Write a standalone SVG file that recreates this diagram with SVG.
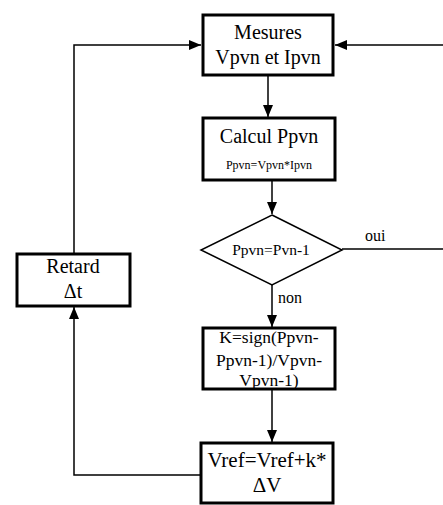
<svg xmlns="http://www.w3.org/2000/svg" width="443" height="505" viewBox="0 0 443 505">
<style>
.box{fill:#fff;stroke:#000;stroke-width:3}
.dia{fill:#fff;stroke:#000;stroke-width:1.5}
.ln{fill:none;stroke:#000;stroke-width:1.5}
text{font-family:'Liberation Serif','DejaVu Serif',serif;fill:#000;text-anchor:middle}
.lbl{text-anchor:start}
</style>
<defs>
<marker id="ah" viewBox="0 0 12 10" refX="12" refY="5" markerWidth="12" markerHeight="10" markerUnits="userSpaceOnUse" orient="auto">
<path d="M0,0 L12,5 L0,10 Z" fill="#000"/>
</marker>
</defs>
<rect width="443" height="505" fill="#fff"/>
<g id="connectors">
<path class="ln" d="M268,75 V117" marker-end="url(#ah)"/>
<path class="ln" d="M272,180 V214" marker-end="url(#ah)"/>
<path class="ln" d="M272,285 V327" marker-end="url(#ah)"/>
<path class="ln" d="M272,389 V442" marker-end="url(#ah)"/>
<path class="ln" d="M342,249 H443"/>
<path class="ln" d="M443,45 H335" marker-end="url(#ah)"/>
<path class="ln" d="M201,475 H74 V307" marker-end="url(#ah)"/>
<path class="ln" d="M74,254 V45 H201" marker-end="url(#ah)"/>
<text class="lbl" x="365" y="241" font-size="16" font-family="Liberation Serif, serif">oui</text>
<text class="lbl" x="278" y="303" font-size="16" font-family="Liberation Serif, serif">non</text>
</g>
<g id="mesures">
<rect class="box" x="203" y="15" width="130" height="60"/>
<text x="268" y="39" font-size="20">Mesures</text>
<text x="268" y="64" font-size="20">Vpvn et Ipvn</text>
</g>
<g id="calcul">
<rect class="box" x="203" y="118" width="132" height="62"/>
<text x="269" y="143" font-size="20">Calcul Ppvn</text>
<text x="269" y="169" font-size="12">Ppvn=Vpvn*Ipvn</text>
</g>
<g id="test">
<polygon class="dia" points="272,215 342,250 272,285 201,250"/>
<text x="271" y="255" font-size="15.5">Ppvn=Pvn-1</text>
</g>
<g id="k">
<rect class="box" x="203" y="328" width="132" height="61"/>
<text x="269" y="343" font-size="17.5">K=sign(Ppvn-</text>
<text x="269" y="366" font-size="17.5">Ppvn-1)/Vpvn-</text>
<text x="269" y="386" font-size="17.5">Vpvn-1)</text>
</g>
<g id="vref">
<rect class="box" x="201" y="443" width="132" height="60"/>
<text x="267" y="467" font-size="21">Vref=Vref+k*</text>
<text x="267" y="492" font-size="21">ΔV</text>
</g>
<g id="retard">
<rect class="box" x="17" y="254" width="113" height="52"/>
<text x="73" y="273" font-size="20">Retard</text>
<text x="73" y="298" font-size="20">Δt</text>
</g>
</svg>
